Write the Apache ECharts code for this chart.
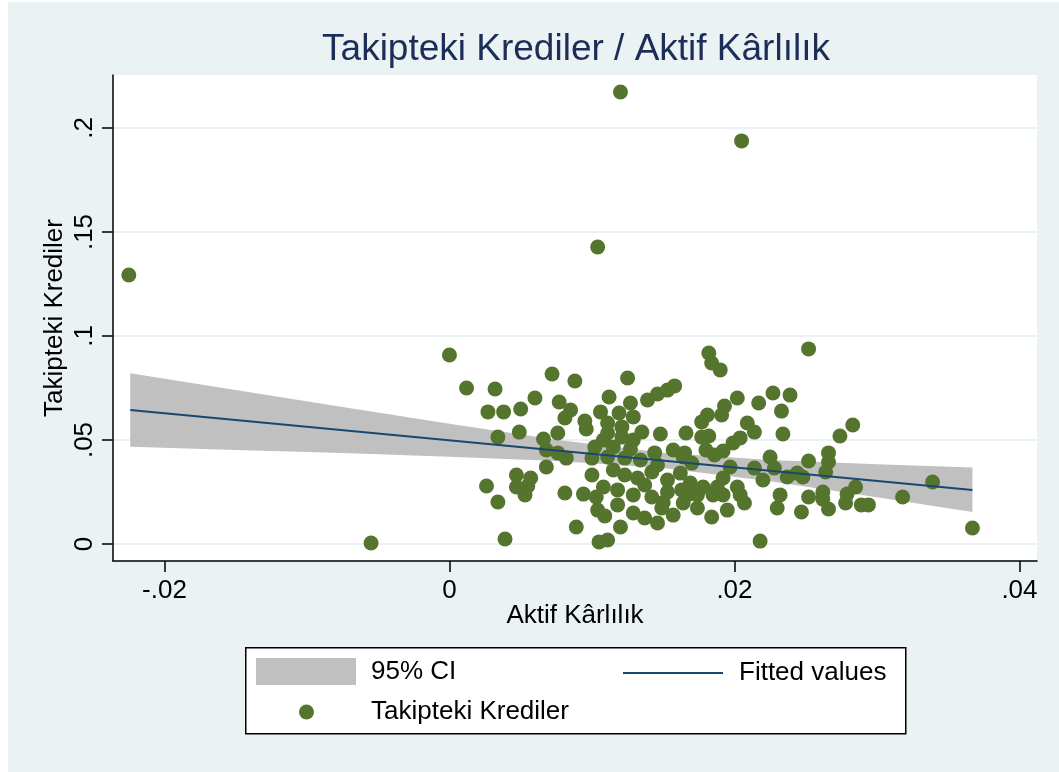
<!DOCTYPE html>
<html>
<head>
<meta charset="utf-8">
<script src="https://cdn.jsdelivr.net/npm/echarts@6/dist/echarts.min.js"></script>
<style>
  html, body { margin: 0; padding: 0; background: #ffffff; }
  #bg { position: absolute; left: 8px; top: 2px; width: 1051px; height: 770px; background: #eaf2f3; }
  #chart { position: absolute; left: 0; top: 0; width: 1059px; height: 772px; }
</style>
</head>
<body>
<div id="bg"></div>
<div id="chart"></div>
<script>
// ---- Data ----
// Scatter: Aktif Kârlılık (x) vs Takipteki Krediler (y)
const aktifKarlilik = [
  -0.0225, 0.0120, 0.0205, 0.0104, -0.0055, 0.0367, 0.0252, 0.0000, 0.0012, 0.0032,
  0.0027, 0.0038, 0.0050, 0.0060, 0.0072, 0.0088, 0.0077, 0.0085, 0.0081, 0.0095,
  0.0096, 0.0125, 0.0112, 0.0127, 0.0139, 0.0146, 0.0153, 0.0158, 0.0106, 0.0119,
  0.0129, 0.0034, 0.0049, 0.0066, 0.0076, 0.0068, 0.0076, 0.0082, 0.0068, 0.0026,
  0.0034, 0.0047, 0.0047, 0.0057, 0.0055, 0.0053, 0.0081, 0.0039, 0.0089, 0.0105,
  0.0111, 0.0120, 0.0104, 0.0109, 0.0100, 0.0100, 0.0094, 0.0111, 0.0121, 0.0111,
  0.0121, 0.0135, 0.0148, 0.0166, 0.0108, 0.0129, 0.0102, 0.0115, 0.0127, 0.0144,
  0.0157, 0.0111, 0.0134, 0.0164, 0.0146, 0.0115, 0.0123, 0.0132, 0.0142, 0.0153,
  0.0162, 0.0108, 0.0118, 0.0129, 0.0142, 0.0153, 0.0163, 0.0118, 0.0129, 0.0137,
  0.0149, 0.0157, 0.0146, 0.0202, 0.0217, 0.0227, 0.0239, 0.0233, 0.0193, 0.0191,
  0.0181, 0.0177, 0.0209, 0.0214, 0.0177, 0.0182, 0.0234, 0.0204, 0.0199, 0.0180,
  0.0186, 0.0192, 0.0165, 0.0170, 0.0197, 0.0214, 0.0225, 0.0228, 0.0220, 0.0237,
  0.0192, 0.0169, 0.0178, 0.0188, 0.0202, 0.0167, 0.0174, 0.0185, 0.0192, 0.0204,
  0.0207, 0.0164, 0.0174, 0.0184, 0.0195, 0.0232, 0.0230, 0.0218, 0.0182, 0.0184,
  0.0190, 0.0274, 0.0283, 0.0252, 0.0266, 0.0266, 0.0264, 0.0244, 0.0248, 0.0252,
  0.0262, 0.0262, 0.0266, 0.0247, 0.0279, 0.0278, 0.0285, 0.0289, 0.0294, 0.0318,
  0.0339, 0.0103, 0.0137, 0.0123, 0.0150
];
const takiptekiKrediler = [
  0.1293, 0.2173, 0.1938, 0.1428, 0.0005, 0.0077, 0.0938, 0.0909, 0.0750, 0.0745,
  0.0635, 0.0635, 0.0649, 0.0702, 0.0817, 0.0784, 0.0683, 0.0644, 0.0606, 0.0591,
  0.0553, 0.0798, 0.0707, 0.0678, 0.0692, 0.0721, 0.0740, 0.0760, 0.0635, 0.0630,
  0.0611, 0.0514, 0.0538, 0.0505, 0.0534, 0.0452, 0.0438, 0.0413, 0.0370, 0.0279,
  0.0202, 0.0332, 0.0274, 0.0317, 0.0279, 0.0236, 0.0245, 0.0024, 0.0082, 0.0010,
  0.0019, 0.0082, 0.0163, 0.0135, 0.0413, 0.0332, 0.0240, 0.0582, 0.0563, 0.0534,
  0.0514, 0.0538, 0.0529, 0.0534, 0.0500, 0.0500, 0.0466, 0.0466, 0.0457, 0.0438,
  0.0452, 0.0418, 0.0404, 0.0418, 0.0380, 0.0356, 0.0332, 0.0317, 0.0346, 0.0308,
  0.0341, 0.0274, 0.0260, 0.0236, 0.0226, 0.0250, 0.0260, 0.0188, 0.0149, 0.0125,
  0.0173, 0.0139, 0.0101, 0.0702, 0.0678, 0.0726, 0.0716, 0.0639, 0.0663, 0.0620,
  0.0620, 0.0587, 0.0582, 0.0538, 0.0514, 0.0519, 0.0529, 0.0510, 0.0486, 0.0452,
  0.0428, 0.0447, 0.0438, 0.0389, 0.0370, 0.0365, 0.0418, 0.0365, 0.0308, 0.0322,
  0.0317, 0.0293, 0.0274, 0.0274, 0.0274, 0.0236, 0.0236, 0.0236, 0.0236, 0.0236,
  0.0197, 0.0197, 0.0173, 0.0130, 0.0163, 0.0236, 0.0173, 0.0014, 0.0918, 0.0870,
  0.0837, 0.0519, 0.0572, 0.0399, 0.0438, 0.0394, 0.0346, 0.0341, 0.0322, 0.0226,
  0.0250, 0.0216, 0.0168, 0.0154, 0.0240, 0.0197, 0.0274, 0.0188, 0.0188, 0.0226,
  0.0298, 0.0226, 0.0284, 0.0413, 0.0200
];

// Fitted values (linear fit) end points
const fitX = [-0.0224, 0.0367];
const fitY = [0.0644, 0.0260];

// 95% CI band, read at several x positions
const ciX    = [-0.0224, -0.0150, -0.0075, 0.0000, 0.0075, 0.0150, 0.0225, 0.0300, 0.0367];
const ciLow  = [ 0.0467,  0.0452,  0.0438, 0.0420, 0.0399, 0.0365, 0.0302, 0.0225, 0.0154];
const ciHigh = [ 0.0821,  0.0740,  0.0659, 0.0578, 0.0501, 0.0439, 0.0404, 0.0383, 0.0368];

// Axis ticks
const xTicks = [-0.02, 0, 0.02, 0.04];
const yTicks = [0, 0.05, 0.1, 0.15, 0.2];
const xRange = [-0.02361, 0.04123];
const yRange = [-0.00817, 0.22548];

// ---- Chart ----
const fmt = v => (Math.abs(v) < 1e-12 ? '0' : String(+v.toFixed(4)).replace('0.', '.'));
const FONT = 'Liberation Sans, Arial, Helvetica, sans-serif';

const chart = echarts.init(document.getElementById('chart'), null, { renderer: 'canvas' });

const option = {
  animation: false,
  textStyle: { fontFamily: FONT },
  title: {
    text: 'Takipteki Krediler / Aktif Kârlılık',
    left: 571, top: 26, textAlign: 'center',
    textStyle: { fontSize: 37, fontWeight: 'normal', color: '#1c2d57', fontFamily: FONT }
  },
  grid: {
    left: 113, top: 75, width: 924, height: 486,
    show: true, backgroundColor: '#ffffff', borderWidth: 0, containLabel: false
  },
  xAxis: {
    type: 'value', min: xRange[0], max: xRange[1],
    name: 'Aktif Kârlılık', nameLocation: 'middle', nameGap: 42, nameMoveOverlap: false,
    nameTextStyle: { fontSize: 26, color: '#000', fontFamily: FONT },
    axisLine: { show: true, onZero: false, lineStyle: { color: '#000', width: 1.5 } },
    axisTick: { show: true, length: 11, customValues: xTicks, lineStyle: { color: '#000', width: 1.5 } },
    axisLabel: { customValues: xTicks, formatter: fmt, fontSize: 26, color: '#000', margin: 17, fontFamily: FONT },
    splitLine: { show: false }
  },
  yAxis: {
    type: 'value', min: yRange[0], max: yRange[1],
    name: 'Takipteki Krediler', nameLocation: 'middle', nameGap: 45, nameMoveOverlap: false,
    nameTextStyle: { fontSize: 26, color: '#000', fontFamily: FONT },
    axisLine: { show: true, onZero: false, lineStyle: { color: '#000', width: 1.5 } },
    axisTick: { show: true, length: 11, customValues: yTicks, lineStyle: { color: '#000', width: 1.5 } },
    axisLabel: { customValues: yTicks, formatter: fmt, fontSize: 26, color: '#000', margin: 15, rotate: 90, fontFamily: FONT },
    splitLine: { show: true, lineStyle: { color: '#eaf2f3', width: 2 } }
  },
  legend: [
    {
      data: ['95% CI'], left: 256, top: 658, padding: 0,
      itemWidth: 100, itemHeight: 27, icon: 'rect',
      textStyle: { fontSize: 26, color: '#000', padding: [2, 0, 0, 10], fontFamily: FONT }
    },
    {
      data: ['Fitted values'], left: 623, top: 660, padding: 0,
      itemWidth: 100, itemHeight: 2, icon: 'rect',
      textStyle: { fontSize: 26, color: '#000', padding: [2, 0, 0, 11], fontFamily: FONT }
    },
    {
      data: ['Takipteki Krediler'], left: 299, top: 699, padding: 0,
      itemWidth: 15, itemHeight: 15, icon: 'circle',
      textStyle: { fontSize: 26, color: '#000', padding: [2, 0, 0, 52], fontFamily: FONT }
    }
  ],
  graphic: [
    {
      type: 'rect', left: 245, top: 647, z: -1,
      shape: { width: 660, height: 86 },
      style: { fill: '#ffffff', stroke: '#000000', lineWidth: 1.5 }
    }
  ],
  series: [
    {
      name: '95% CI', type: 'custom', clip: true,
      itemStyle: { color: '#c0c0c0' },
      data: ciX.map((x, i) => [x, ciLow[i], ciHigh[i]]),
      encode: { x: 0, y: [1, 2] },
      renderItem: function (params, api) {
        if (params.dataIndex !== 0) return null;
        const pts = [];
        for (let i = 0; i < ciX.length; i++) pts.push(api.coord([ciX[i], ciHigh[i]]));
        for (let i = ciX.length - 1; i >= 0; i--) pts.push(api.coord([ciX[i], ciLow[i]]));
        return { type: 'polygon', shape: { points: pts }, style: { fill: '#c0c0c0' } };
      }
    },
    {
      name: 'Fitted values', type: 'line', showSymbol: false, symbol: 'none',
      color: '#1a476f',
      lineStyle: { color: '#1a476f', width: 2 },
      data: fitX.map((x, i) => [x, fitY[i]])
    },
    {
      name: 'Takipteki Krediler', type: 'scatter', symbolSize: 15,
      itemStyle: { color: '#55752f', opacity: 1 },
      data: aktifKarlilik.map((x, i) => [x, takiptekiKrediler[i]])
    }
  ]
};
chart.setOption(option);
</script>
</body>
</html>
